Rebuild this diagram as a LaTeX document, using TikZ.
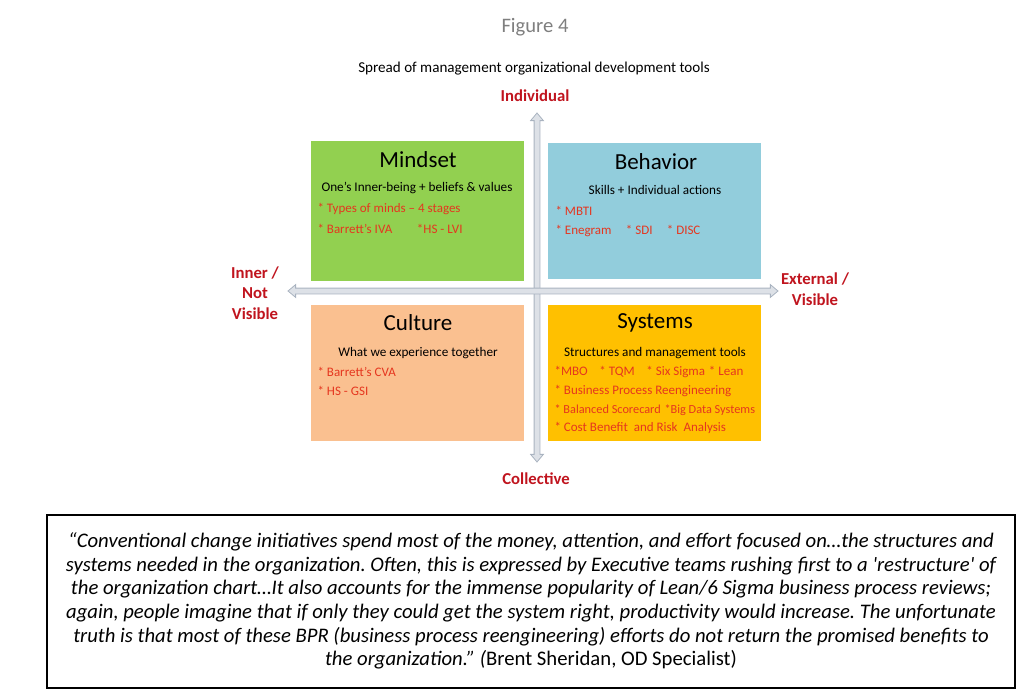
\documentclass[tikz,border=0pt]{standalone}
\usepackage{fontspec}
\setmainfont{Carlito}
\usetikzlibrary{shapes.arrows}
\definecolor{verdeMind}{HTML}{92D050}
\definecolor{azulBehav}{HTML}{92CDDC}
\definecolor{melocoton}{HTML}{FAC090}
\definecolor{ambar}{HTML}{FFC000}
\definecolor{rojoEje}{HTML}{C0141E}
\definecolor{rojoItem}{HTML}{E5361F}
\definecolor{grisFig}{HTML}{7F7F7F}
\definecolor{grisFlecha}{HTML}{A9B3C0}
\definecolor{grisRelleno}{HTML}{DDE1E7}
\frenchspacing

\begin{document}
\begin{tikzpicture}[x=1pt,y=-1pt,
  quad/.style={anchor=north west,inner sep=0pt,minimum width=213pt,minimum height=#1},
  quad/.default=140pt,
  headline/.style={font=\fontsize{23}{27}\selectfont},
  subline/.style={font=\fontsize{13.2}{16}\selectfont},
  itemline/.style={anchor=west,text=rojoItem,font=\fontsize{13}{15}\selectfont},
  axislabel/.style={text=rojoEje,font=\fontsize{16.7}{20.5}\selectfont\bfseries,align=center},
  axisarrow/.style={double arrow,draw=grisFlecha,fill=grisRelleno,line width=0.8pt,
    inner sep=2.5pt,minimum width=0pt,double arrow head extend=3.5pt,
    double arrow tip angle=80,minimum height=#1},
]
  \useasboundingbox (0,0) rectangle (1024,695);
  % titles
  \node[text=grisFig,font=\fontsize{20.6}{24}\selectfont] (fig) at (535,27) {Figure 4};
  \node[font=\fontsize{15.1}{18}\selectfont] (spread) at (534,69)
    {Spread of management organizational development tools};
  % quadrants
  \node[quad=140pt,fill=verdeMind] (mind) at (311,141) {};
  \node[quad=136pt,fill=azulBehav] (behav) at (548,143) {};
  \node[quad=136pt,fill=melocoton] (cult) at (311,305) {};
  \node[quad=136pt,fill=ambar] (syst) at (548,305) {};
  % axes
  \node[axisarrow=349pt,shape border rotate=90] (vaxis) at (537,287.5) {};
  \node[axisarrow=490pt] (haxis) at (533,291) {};
  \node[axislabel] (indiv) at (535,96) {Individual};
  \node[axislabel] (coll) at (536,479) {Collective};
  \node[axislabel] (inner) at (255,293) {Inner /\\Not\\Visible};
  \node[axislabel] (extern) at (815,289) {External /\\Visible};
  % Mindset
  \node[headline] (mindT) at (418,160) {Mindset};
  \node[subline] (mindS) at (417,188) {One’s Inner-being + beliefs \& values};
  \node[itemline] (mind1) at (314,209) {* Types of minds – 4 stages};
  \node[itemline] (mind2) at (314,229) {* Barrett’s IVA\hspace{1.9em}*HS - LVI};
  % Behavior
  \node[headline] (behavT) at (656,162) {Behavior};
  \node[subline] (behavS) at (655,190) {Skills + Individual actions};
  \node[itemline] (behav1) at (552,211) {* MBTI};
  \node[itemline] (behav2) at (552,231) {* Enegram\hspace{1.1em}* SDI\hspace{1.1em}* DISC};
  % Culture
  \node[headline] (cultT) at (418,323) {Culture};
  \node[subline] (cultS) at (418,353) {What we experience together};
  \node[itemline] (cult1) at (314,372) {* Barrett’s CVA};
  \node[itemline] (cult2) at (314,391) {* HS - GSI};
  % Systems
  \node[headline] (systT) at (655,323) {Systems};
  \node[subline] (systS) at (655,353) {Structures and management tools};
  \node[itemline] (syst1) at (551,372) {*MBO\hspace{0.9em}* TQM\hspace{0.9em}* Six Sigma\hspace{0.3em}* Lean};
  \node[itemline] (syst2) at (551,391) {* Business Process Reengineering};
  \node[itemline,font=\fontsize{12.3}{15}\selectfont] (syst3) at (551,410) {* Balanced Scorecard\hspace{0.3em}*Big Data Systems};
  \node[itemline] (syst4) at (551,428) {* Cost Benefit\ \ and Risk\ \ Analysis};
  % quote
  \draw[line width=1.5pt] (47,515) rectangle (1015,688);
  \node[align=center,font=\fontsize{20.7}{23.6}\selectfont] (quote) at (531,601)
    {\itshape “Conventional change initiatives spend most of the money, attention, and effort focused on…the structures and\\
     \itshape systems needed in the organization. Often, this is expressed by Executive teams rushing first to a \textquotesingle restructure\textquotesingle\ of\\
     \itshape the organization chart…It also accounts for the immense popularity of Lean/6 Sigma business process reviews;\\
     \itshape again, people imagine that if only they could get the system right, productivity would increase. The unfortunate\\
     \itshape truth is that most of these BPR (business process reengineering) efforts do not return the promised benefits to\\
     \textit{the organization.” (}Brent Sheridan, OD Specialist)};
\end{tikzpicture}
\end{document}
